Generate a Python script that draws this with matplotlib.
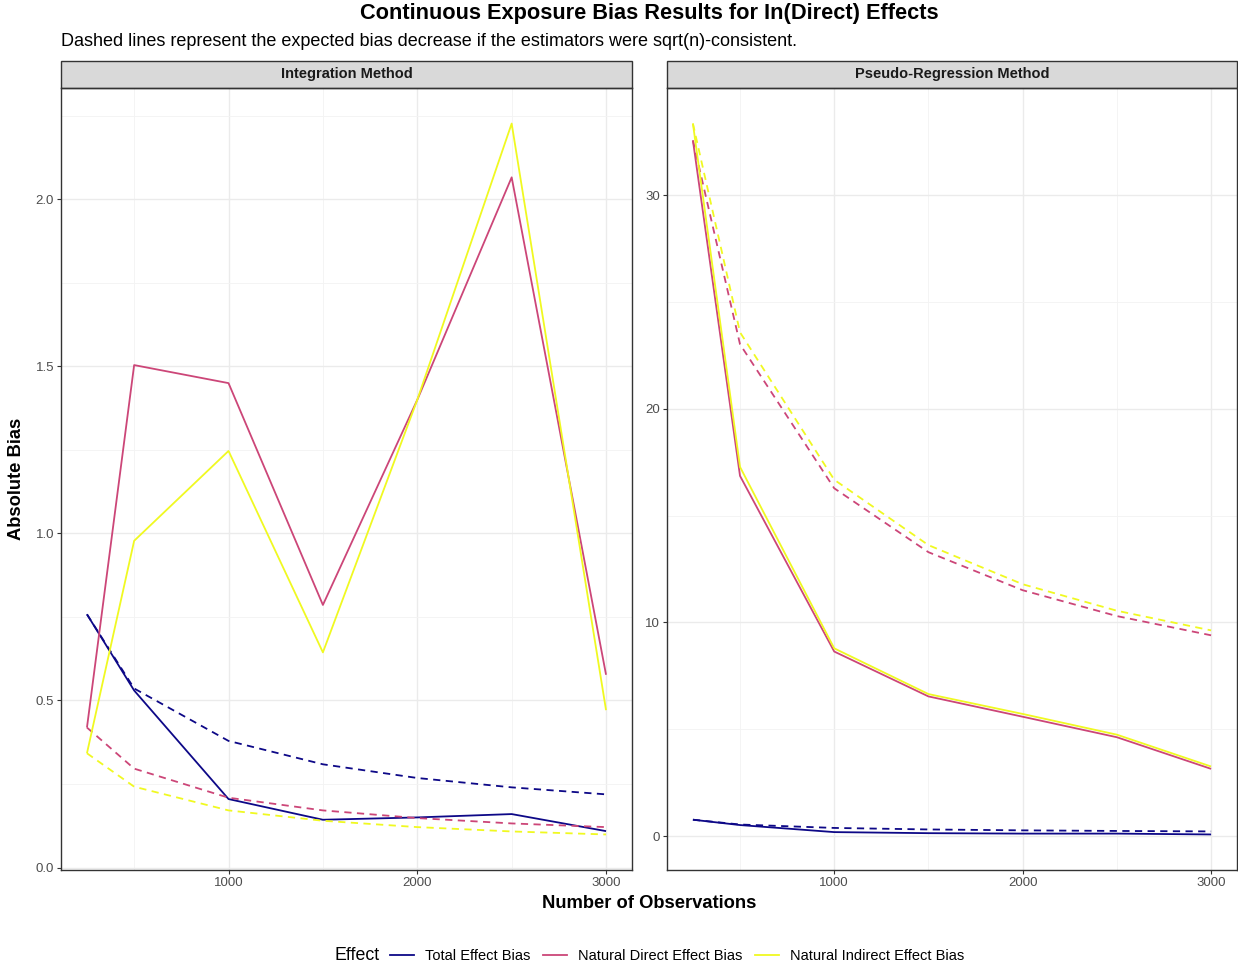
import matplotlib
matplotlib.use("Agg")
import matplotlib.pyplot as plt
from matplotlib.lines import Line2D
from matplotlib.patches import Rectangle

plt.rcParams['font.family'] = ['Liberation Sans', 'DejaVu Sans']

n_obs = [250, 500, 1000, 1500, 2000, 2500, 3000]
effects = ["Total Effect Bias", "Natural Direct Effect Bias", "Natural Indirect Effect Bias"]
colors = ["#0D0887", "#CC4678", "#F0F921"]
panels = ["Integration Method", "Pseudo-Regression Method"]

# integration method: observed bias and expected sqrt(n) decrease
int_total = [0.758, 0.53, 0.205, 0.143, 0.150, 0.160, 0.109]
int_direct = [0.419, 1.504, 1.450, 0.786, 1.40, 2.066, 0.577]
int_indirect = [0.342, 0.978, 1.247, 0.644, 1.40, 2.227, 0.471]
int_total_exp = [0.758, 0.536, 0.379, 0.309, 0.268, 0.240, 0.219]
int_direct_exp = [0.419, 0.296, 0.209, 0.171, 0.148, 0.132, 0.121]
int_indirect_exp = [0.342, 0.242, 0.171, 0.140, 0.121, 0.108, 0.099]

# pseudo-regression method
pr_total = [0.77, 0.52, 0.19, 0.14, 0.12, 0.12, 0.08]
pr_direct = [32.56, 16.86, 8.64, 6.54, 5.59, 4.63, 3.15]
pr_indirect = [33.35, 17.28, 8.79, 6.65, 5.72, 4.75, 3.26]
pr_total_exp = [0.77, 0.545, 0.385, 0.314, 0.272, 0.244, 0.222]
pr_direct_exp = [32.56, 23.02, 16.28, 13.29, 11.51, 10.30, 9.40]
pr_indirect_exp = [33.35, 23.58, 16.68, 13.62, 11.79, 10.55, 9.63]

W, H = 1238, 967
fig = plt.figure(figsize=(W / 100, H / 100), dpi=100)

def box(x0, y0, x1, y1):
    return [x0 / W, 1 - y1 / H, (x1 - x0) / W, (y1 - y0) / H]

ax1 = fig.add_axes(box(61, 88, 632, 870))
ax2 = fig.add_axes(box(667, 88, 1237, 870))

data = [
    (ax1, [int_total, int_direct, int_indirect], [int_total_exp, int_direct_exp, int_indirect_exp],
     [0.0, 0.5, 1.0, 1.5, 2.0], ["0.0", "0.5", "1.0", "1.5", "2.0"], [0.25, 0.75, 1.25, 1.75, 2.25]),
    (ax2, [pr_total, pr_direct, pr_indirect], [pr_total_exp, pr_direct_exp, pr_indirect_exp],
     [0, 10, 20, 30], ["0", "10", "20", "30"], [5, 15, 25]),
]

for (ax, solid, dashed, yt, ytl, ymin), title in zip(data, panels):
    for s, d, c in zip(solid, dashed, colors):
        ax.plot(n_obs, s, color=c, lw=1.3, solid_capstyle='butt', zorder=3)
        ax.plot(n_obs, d, color=c, lw=1.3, ls=(0, (4, 3)), zorder=3)
    ax.margins(x=0.05, y=0.05)
    ax.set_xticks([1000, 2000, 3000])
    ax.set_xticks([500, 1500, 2500], minor=True)
    ax.set_yticks(yt)
    ax.set_yticklabels(ytl)
    ax.set_yticks(ymin, minor=True)
    ax.grid(which='major', color='#EBEBEB', lw=1.0, zorder=0)
    ax.grid(which='minor', color='#F3F3F3', lw=0.6, zorder=0)
    ax.set_axisbelow(True)
    ax.tick_params(which='major', length=3, width=0.8, color='#333333', labelsize=9.5,
                   labelcolor='#4D4D4D', pad=2)
    ax.tick_params(which='minor', length=0)
    for sp in ax.spines.values():
        sp.set_color('#333333')
        sp.set_linewidth(1.0)
    # facet strip
    strip = Rectangle((0, 1.0), 1, 27 / 782, transform=ax.transAxes, facecolor='#D9D9D9',
                      edgecolor='#333333', lw=1.0, clip_on=False)
    ax.add_patch(strip)
    ax.text(0.5, 1.0 + 13.5 / 782, title, transform=ax.transAxes, ha='center', va='center',
            fontsize=10.5, fontweight='bold', color='#1A1A1A')

fig.text(649 / W, 1 - 14 / H, "Continuous Exposure Bias Results for In(Direct) Effects",
         ha='center', va='center', fontsize=15.7, fontweight='bold')
fig.text(61 / W, 1 - 41 / H,
         "Dashed lines represent the expected bias decrease if the estimators were sqrt(n)-consistent.",
         ha='left', va='center', fontsize=13)
fig.text(17 / W, 1 - 479 / H, "Absolute Bias", rotation=90, ha='center', va='center',
         fontsize=13.2, fontweight='bold')
fig.text(649 / W, 1 - 903 / H, "Number of Observations", ha='center', va='center',
         fontsize=13.2, fontweight='bold')

# legend at the bottom, title on the left like ggplot
fig.text(334 / W, 1 - 956 / H, "Effect", ha='left', va='center', fontsize=12.8)
handles = [Line2D([], [], color=c, lw=1.3) for c in colors]
fig.legend(handles, effects, loc='center', bbox_to_anchor=(677 / W, 1 - 956 / H),
           ncol=3, frameon=False, fontsize=10.5, handlelength=1.65, handletextpad=0.75,
           columnspacing=0.85, borderpad=0, borderaxespad=0)

fig.savefig("out.png", dpi=100)
